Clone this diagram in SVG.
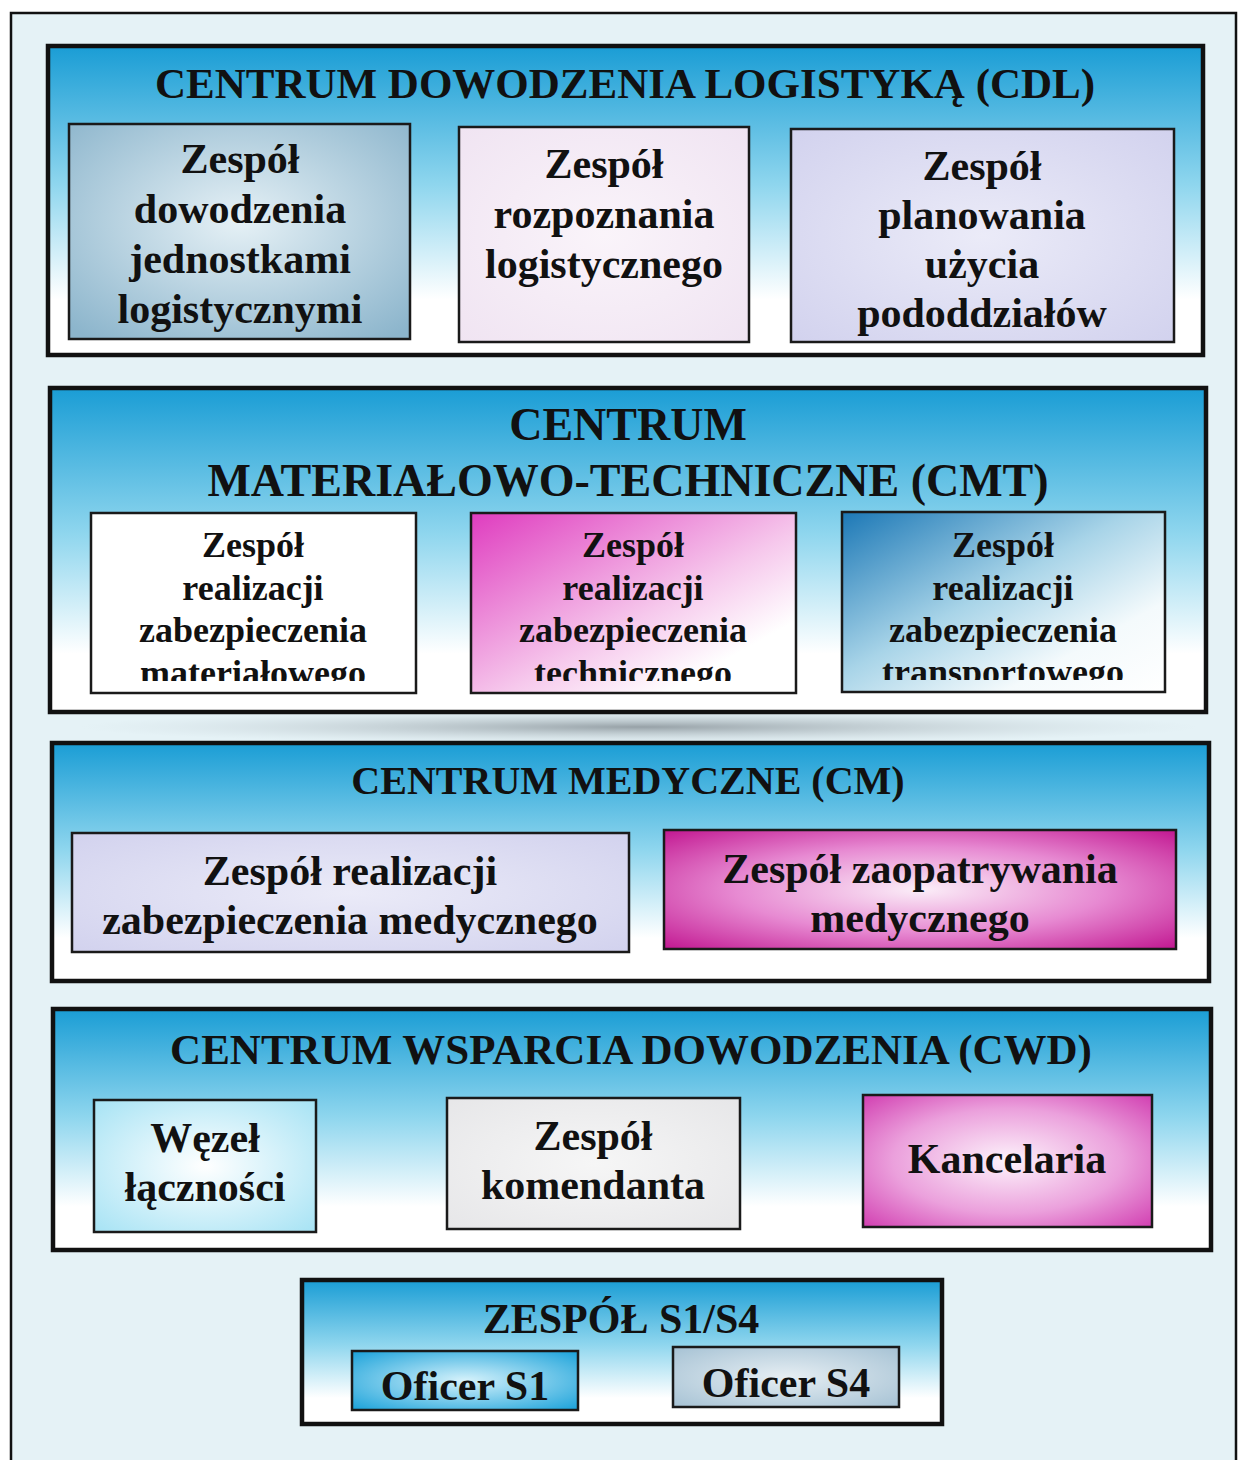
<svg xmlns="http://www.w3.org/2000/svg" width="1238" height="1460" viewBox="0 0 1238 1460">
<style>
.sec{stroke:#111;stroke-width:4.5}
.box{stroke:#1a1a1a;stroke-width:2.5}
text{font-family:"Liberation Serif","Times New Roman",serif;font-weight:bold;fill:#111;text-anchor:middle}
.t43{font-size:43px}.t46{font-size:46px}.t40{font-size:40px}.t42{font-size:42px}.t36{font-size:36px}
</style>
<defs>
<linearGradient id="gSec" x1="0" y1="0" x2="0" y2="1">
<stop offset="0" stop-color="#1a9dd5"/><stop offset="0.45" stop-color="#8fd6ee"/><stop offset="0.82" stop-color="#ffffff"/><stop offset="1" stop-color="#ffffff"/>
</linearGradient>
<radialGradient id="gSteel" cx="0.5" cy="0.45" r="0.7"><stop offset="0" stop-color="#e6f1f6"/><stop offset="1" stop-color="#8cb5cc"/></radialGradient>
<radialGradient id="gPink" cx="0.5" cy="0.5" r="0.7"><stop offset="0" stop-color="#faf4fa"/><stop offset="1" stop-color="#f0e4f2"/></radialGradient>
<radialGradient id="gLav" cx="0.5" cy="0.5" r="0.7"><stop offset="0" stop-color="#ebebf8"/><stop offset="1" stop-color="#d2d2ee"/></radialGradient>
<linearGradient id="gMagDiag" x1="0" y1="0" x2="1" y2="1"><stop offset="0" stop-color="#df3cbf"/><stop offset="0.55" stop-color="#f6c8ec"/><stop offset="0.8" stop-color="#ffffff"/></linearGradient>
<linearGradient id="gBlueDiag" x1="0" y1="0" x2="1" y2="1"><stop offset="0" stop-color="#1c78b6"/><stop offset="0.45" stop-color="#a8d4e8"/><stop offset="0.75" stop-color="#f4fafc"/><stop offset="1" stop-color="#ffffff"/></linearGradient>
<radialGradient id="gMag" cx="0.5" cy="0.5" r="0.72"><stop offset="0" stop-color="#fbeef8"/><stop offset="0.5" stop-color="#e78ad2"/><stop offset="1" stop-color="#c0128e"/></radialGradient>
<radialGradient id="gMag2" cx="0.5" cy="0.5" r="0.72"><stop offset="0" stop-color="#fdf3fb"/><stop offset="0.55" stop-color="#eba0dc"/><stop offset="1" stop-color="#d03aaf"/></radialGradient>
<radialGradient id="gCyan" cx="0.5" cy="0.5" r="0.72"><stop offset="0" stop-color="#ffffff"/><stop offset="1" stop-color="#a4e2f4"/></radialGradient>
<radialGradient id="gGray" cx="0.5" cy="0.5" r="0.72"><stop offset="0" stop-color="#f6f6f6"/><stop offset="1" stop-color="#e6e6e8"/></radialGradient>
<radialGradient id="gBlue" cx="0.5" cy="0.5" r="0.7"><stop offset="0" stop-color="#d6f2fb"/><stop offset="1" stop-color="#1aa2da"/></radialGradient>
<radialGradient id="gSteel2" cx="0.5" cy="0.5" r="0.7"><stop offset="0" stop-color="#e6eef3"/><stop offset="1" stop-color="#a6c2d4"/></radialGradient>
<radialGradient id="gShadow" cx="0.5" cy="0.5" r="0.5"><stop offset="0" stop-color="#8e989e" stop-opacity="0.9"/><stop offset="1" stop-color="#c8d4da" stop-opacity="0"/></radialGradient>
<clipPath id="c1"><rect x="91" y="513" width="325" height="168"/></clipPath>
<clipPath id="c2"><rect x="471" y="513" width="325" height="168"/></clipPath>
<clipPath id="c3"><rect x="842" y="512" width="323" height="168"/></clipPath>
</defs>

<rect x="0" y="0" width="1238" height="1460" fill="#ffffff"/>
<rect x="11" y="13" width="1226" height="1447" fill="#e5f2f6"/>
<path d="M11 1460 V13 H1236 V1460" fill="none" stroke="#111" stroke-width="2.5"/>
<ellipse cx="640" cy="727" rx="560" ry="17" fill="url(#gShadow)"/>

<g id="cdl">
<rect class="sec" x="48" y="46" width="1155" height="309" fill="url(#gSec)"/>
<text class="t43" x="625" y="98">CENTRUM DOWODZENIA LOGISTYKĄ (CDL)</text>
</g>
<g id="cdl-dowodzenia">
<rect class="box" x="69" y="124" width="341" height="215" fill="url(#gSteel)"/>
<text class="t42" x="240" y="173">Zespół</text>
<text class="t42" x="240" y="223">dowodzenia</text>
<text class="t42" x="240" y="273">jednostkami</text>
<text class="t42" x="240" y="323">logistycznymi</text>
</g>
<g id="cdl-rozpoznania">
<rect class="box" x="459" y="127" width="290" height="215" fill="url(#gPink)"/>
<text class="t42" x="604" y="178">Zespół</text>
<text class="t42" x="604" y="228">rozpoznania</text>
<text class="t42" x="604" y="278">logistycznego</text>
</g>
<g id="cdl-planowania">
<rect class="box" x="791" y="129" width="383" height="213" fill="url(#gLav)"/>
<text class="t42" x="982" y="180">Zespół</text>
<text class="t42" x="982" y="229">planowania</text>
<text class="t42" x="982" y="278">użycia</text>
<text class="t42" x="982" y="327">pododdziałów</text>
</g>

<g id="cmt">
<rect class="sec" x="50" y="388" width="1156" height="324" fill="url(#gSec)"/>
<text class="t46" x="628" y="440">CENTRUM</text>
<text class="t46" x="628" y="496">MATERIAŁOWO-TECHNICZNE (CMT)</text>
</g>
<g id="cmt-materialowe">
<rect class="box" x="91" y="513" width="325" height="180" fill="#ffffff"/>
<g clip-path="url(#c1)">
<text class="t36" x="253" y="557">Zespół</text>
<text class="t36" x="253" y="600">realizacji</text>
<text class="t36" x="253" y="642">zabezpieczenia</text>
<text class="t36" x="253" y="685">materiałowego</text>
</g>
</g>
<g id="cmt-techniczne">
<rect class="box" x="471" y="513" width="325" height="180" fill="url(#gMagDiag)"/>
<g clip-path="url(#c2)">
<text class="t36" x="633" y="557">Zespół</text>
<text class="t36" x="633" y="600">realizacji</text>
<text class="t36" x="633" y="642">zabezpieczenia</text>
<text class="t36" x="633" y="685">technicznego</text>
</g>
</g>
<g id="cmt-transportowe">
<rect class="box" x="842" y="512" width="323" height="180" fill="url(#gBlueDiag)"/>
<g clip-path="url(#c3)">
<text class="t36" x="1003" y="557">Zespół</text>
<text class="t36" x="1003" y="600">realizacji</text>
<text class="t36" x="1003" y="642">zabezpieczenia</text>
<text class="t36" x="1003" y="684">transportowego</text>
</g>
</g>

<g id="cm">
<rect class="sec" x="52" y="743" width="1157" height="238" fill="url(#gSec)"/>
<text class="t40" x="628" y="794">CENTRUM MEDYCZNE (CM)</text>
</g>
<g id="cm-realizacji">
<rect class="box" x="72" y="833" width="557" height="119" fill="url(#gLav)"/>
<text class="t42" x="350" y="885">Zespół realizacji</text>
<text class="t42" x="350" y="934">zabezpieczenia medycznego</text>
</g>
<g id="cm-zaopatrywania">
<rect class="box" x="664" y="830" width="512" height="119" fill="url(#gMag)"/>
<text class="t42" x="920" y="883">Zespół zaopatrywania</text>
<text class="t42" x="920" y="932">medycznego</text>
</g>

<g id="cwd">
<rect class="sec" x="53" y="1009" width="1158" height="241" fill="url(#gSec)"/>
<text class="t43" x="631" y="1064">CENTRUM WSPARCIA DOWODZENIA (CWD)</text>
</g>
<g id="cwd-wezel">
<rect class="box" x="94" y="1100" width="222" height="132" fill="url(#gCyan)"/>
<text class="t42" x="205" y="1152">Węzeł</text>
<text class="t42" x="205" y="1201">łączności</text>
</g>
<g id="cwd-komendanta">
<rect class="box" x="447" y="1098" width="293" height="131" fill="url(#gGray)"/>
<text class="t42" x="593" y="1150">Zespół</text>
<text class="t42" x="593" y="1199">komendanta</text>
</g>
<g id="cwd-kancelaria">
<rect class="box" x="863" y="1095" width="289" height="132" fill="url(#gMag2)"/>
<text class="t42" x="1007" y="1173">Kancelaria</text>
</g>

<g id="s1s4">
<rect class="sec" x="302" y="1280" width="640" height="144" fill="url(#gSec)"/>
<text class="t42" x="621" y="1333">ZESPÓŁ S1/S4</text>
</g>
<g id="oficer-s1">
<rect class="box" x="352" y="1351" width="226" height="59" fill="url(#gBlue)"/>
<text class="t42" x="465" y="1400">Oficer S1</text>
</g>
<g id="oficer-s4">
<rect class="box" x="673" y="1347" width="226" height="60" fill="url(#gSteel2)"/>
<text class="t42" x="786" y="1397">Oficer S4</text>
</g>
<g id="connectors"></g>
</svg>
